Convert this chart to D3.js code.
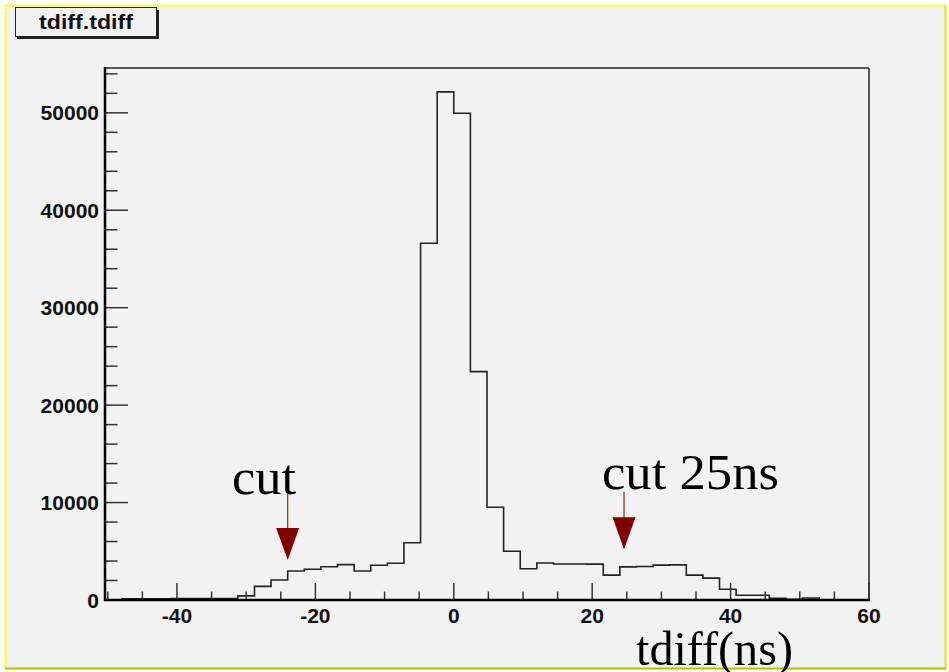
<!DOCTYPE html>
<html><head><meta charset="utf-8">
<script src="https://cdn.jsdelivr.net/npm/d3@7"></script>
<style>body{margin:0;background:#fff}svg{display:block}</style>
</head><body><svg id="c" width="949" height="672"></svg>
<script>
// ---- data ----
const binStart = -50.4;
const binWidth = 2.4;
const counts = [0,120,130,130,140,140,150,150,420,1400,2050,2980,3150,3420,3630,2980,3560,3770,5880,36620,52150,49950,23440,9520,5000,3200,3800,3700,3690,3680,2550,3400,3440,3580,3600,2550,2250,1100,480,480,170,60,200,20,10,0];
const xDomain = [-50.4, 60];
const yDomain = [0, 54600];
const xMajorTicks = [-40,-20,0,20,40,60];
const xMinorTicks = [-50,-45,-35,-30,-25,-15,-10,-5,5,10,15,25,30,35,45,50,55];
const yMajorTicks = [0,10000,20000,30000,40000,50000];
const yMinorTicks = [2000,4000,6000,8000,12000,14000,16000,18000,22000,24000,26000,28000,32000,34000,36000,38000,42000,44000,46000,48000,52000,54000];
const cutArrows = [{x:-24, from:11000, to:4100, label:"cut"},{x:24.6, from:11100, to:5200, label:"cut 25ns"}];
const histTitle = "tdiff.tdiff";
const xTitle = "tdiff(ns)";

// ---- drawing ----
const svg = d3.select("#c");
const L=105, R=869, T=68, B=600;
const x = d3.scaleLinear().domain(xDomain).range([L,R]);
const y = d3.scaleLinear().domain(yDomain).range([B,T]);

svg.append("rect").attr("x",0).attr("y",0).attr("width",949).attr("height",672).attr("fill","#ffffff");
svg.append("rect").attr("x",6).attr("y",6).attr("width",939).attr("height",662).attr("fill","#f2f2f2");
// yellow frame
svg.append("line").attr("x1",5).attr("x2",946).attr("y1",5.5).attr("y2",5.5).attr("stroke","#ffff33").attr("stroke-width",2);
svg.append("line").attr("x1",5.5).attr("x2",5.5).attr("y1",5).attr("y2",669).attr("stroke","#ffff33").attr("stroke-width",2);
svg.append("line").attr("x1",945.5).attr("x2",945.5).attr("y1",5).attr("y2",669).attr("stroke","#e6e600").attr("stroke-width",2);
svg.append("line").attr("x1",5).attr("x2",946).attr("y1",668.5).attr("y2",668.5).attr("stroke","#bcbc00").attr("stroke-width",2);

// title box
svg.append("rect").attr("x",17).attr("y",10).attr("width",142).attr("height",29).attr("fill","#222");
svg.append("rect").attr("x",15.5).attr("y",7.5).attr("width",141).attr("height",29).attr("fill","#f2f2f2").attr("stroke","#222").attr("stroke-width",1);
svg.append("text").attr("x",86).attr("y",29).attr("text-anchor","middle")
  .attr("font-family","Liberation Sans, Arial, sans-serif").attr("font-weight","bold").attr("font-size",21)
  .attr("textLength",94).attr("lengthAdjust","spacingAndGlyphs").attr("fill","#111").text(histTitle);

// frame top/right
svg.append("line").attr("x1",L).attr("x2",R).attr("y1",T).attr("y2",T).attr("stroke","#222").attr("stroke-width",1.5);
svg.append("line").attr("x1",R).attr("x2",R).attr("y1",T).attr("y2",B).attr("stroke","#222").attr("stroke-width",1.5);

// histogram
const pts = [[x(binStart), y(0)]];
counts.forEach((c,i)=>{
  const x0 = binStart + i*binWidth, x1 = x0 + binWidth;
  pts.push([x(x0), y(c)]); pts.push([x(x1), y(c)]);
});
pts.push([x(binStart + counts.length*binWidth), y(0)]);
svg.append("path").attr("d", d3.line()(pts)).attr("fill","none").attr("stroke","#222").attr("stroke-width",1.6);

// ticks (inside)
const tickG = svg.append("g").attr("stroke","#333").attr("stroke-width",1.5);
yMajorTicks.forEach(v=>tickG.append("line").attr("x1",L).attr("x2",L+23).attr("y1",y(v)).attr("y2",y(v)));
yMinorTicks.forEach(v=>tickG.append("line").attr("x1",L).attr("x2",L+12.5).attr("y1",y(v)).attr("y2",y(v)));
xMajorTicks.forEach(v=>tickG.append("line").attr("x1",x(v)).attr("x2",x(v)).attr("y1",B).attr("y2",B-17));
xMinorTicks.forEach(v=>tickG.append("line").attr("x1",x(v)).attr("x2",x(v)).attr("y1",B).attr("y2",B-8.5));

// axes lines (thick)
svg.append("line").attr("x1",L).attr("x2",L).attr("y1",T-1).attr("y2",B+1).attr("stroke","#000").attr("stroke-width",2.5);
svg.append("line").attr("x1",L-1).attr("x2",R+1).attr("y1",B).attr("y2",B).attr("stroke","#000").attr("stroke-width",2.5);

// labels
const fam = "Liberation Sans, Arial, sans-serif";
yMajorTicks.forEach(v=>svg.append("text").attr("x",99).attr("y",y(v)+7.5).attr("text-anchor","end")
  .attr("font-family",fam).attr("font-weight","bold").attr("font-size",21).attr("fill","#111").text(v));
xMajorTicks.forEach(v=>svg.append("text").attr("x",x(v)).attr("y",623).attr("text-anchor","middle")
  .attr("font-family",fam).attr("font-weight","bold").attr("font-size",21).attr("fill","#111").text(v));

// axis title
svg.append("text").attr("x",636).attr("y",665).attr("font-family","Liberation Serif, Times New Roman, serif")
  .attr("font-size",49).attr("textLength",157).attr("lengthAdjust","spacingAndGlyphs").attr("fill","#000").text(xTitle);

// cut arrows
cutArrows.forEach(a=>{
  const ax = x(a.x), yTop = y(a.from), yTip = y(a.to);
  const headLen = 32, headW = 11.5;
  svg.append("line").attr("x1",ax).attr("x2",ax).attr("y1",yTop).attr("y2",yTip-headLen+2).attr("stroke","#a02020").attr("stroke-width",1.2);
  svg.append("path").attr("d",`M${ax-headW},${yTip-headLen} L${ax+headW},${yTip-headLen} L${ax},${yTip} Z`).attr("fill","#800000");
});
svg.append("text").attr("x",232).attr("y",494).attr("font-family","Liberation Serif, Times New Roman, serif")
  .attr("font-size",50).attr("textLength",64).attr("lengthAdjust","spacingAndGlyphs").attr("fill","#000").text(cutArrows[0].label);
svg.append("text").attr("x",602).attr("y",489).attr("font-family","Liberation Serif, Times New Roman, serif")
  .attr("font-size",50).attr("textLength",177).attr("lengthAdjust","spacingAndGlyphs").attr("fill","#000").text(cutArrows[1].label);
</script></body></html>
